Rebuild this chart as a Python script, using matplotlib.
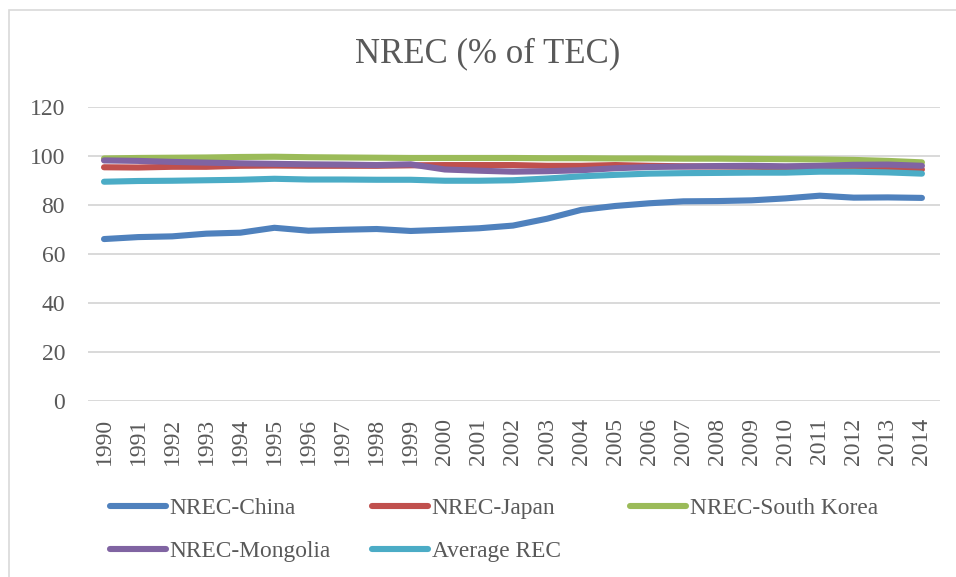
import matplotlib.pyplot as plt
from matplotlib.patches import Rectangle

years = [str(y) for y in range(1990, 2015)]

china = [66.1, 66.9, 67.2, 68.3, 68.7, 70.7, 69.5, 69.9, 70.2, 69.4,
         69.9, 70.5, 71.6, 74.4, 78.0, 79.6, 80.7, 81.5, 81.6, 81.9,
         82.7, 83.8, 83.0, 83.1, 82.9]
japan = [95.4, 95.3, 95.6, 95.6, 96.0, 96.1, 96.0, 96.0, 96.0, 96.2,
         96.3, 96.3, 96.3, 96.0, 96.0, 96.3, 96.0, 95.8, 95.7, 95.6,
         95.4, 95.3, 95.2, 95.0, 94.5]
south_korea = [99.0, 99.2, 99.3, 99.4, 99.6, 99.7, 99.5, 99.4, 99.3, 99.2,
               99.2, 99.2, 99.2, 99.1, 99.1, 99.0, 99.0, 98.9, 98.9, 98.8,
               98.7, 98.6, 98.4, 98.0, 97.4]
mongolia = [98.2, 98.0, 97.6, 97.3, 97.0, 96.8, 96.6, 96.5, 96.3, 96.6,
            94.5, 94.0, 93.6, 93.8, 94.2, 95.0, 95.5, 95.7, 95.9, 96.0,
            95.8, 96.0, 96.4, 96.5, 96.0]
average_rec = [89.5, 89.8, 89.9, 90.1, 90.3, 90.7, 90.4, 90.4, 90.3, 90.3,
               89.9, 89.9, 90.1, 90.8, 91.7, 92.3, 92.8, 93.0, 93.1, 93.2,
               93.2, 93.6, 93.6, 93.3, 92.8]

series = [
    ("NREC-China", china, "#4F81BD"),
    ("NREC-Japan", japan, "#C0504D"),
    ("NREC-South Korea", south_korea, "#9BBB59"),
    ("NREC-Mongolia", mongolia, "#8064A2"),
    ("Average REC", average_rec, "#4BACC6"),
]

plt.rcParams["font.family"] = ["Liberation Serif", "DejaVu Serif"]
txt = "#595959"
grid = "#D9D9D9"

fig = plt.figure(figsize=(9.56, 5.77), dpi=100)
fig.patches.append(Rectangle((9 / 956, -0.1), 1.2, 1.1 - 10 / 577,
                             transform=fig.transFigure, fill=False,
                             edgecolor=grid, linewidth=1.2))

ax = fig.add_axes([88 / 956, 1 - 401 / 577, (940 - 88) / 956, (401 - 107) / 577])

x = list(range(len(years)))
lines = {}
for name, vals, col in series:
    ln, = ax.plot(x, vals, color=col, linewidth=4.4, solid_capstyle="round",
                  solid_joinstyle="round", label=name)
    lines[name] = ln

ax.set_xlim(-0.47, 24.53)
ax.set_ylim(0, 120)
ax.set_yticks(range(0, 121, 20))
ax.set_xticks(x)
ax.set_xticklabels(years, rotation=90)
ax.tick_params(axis="both", length=0, labelsize=17, colors=txt)
ax.tick_params(axis="y", pad=16.5)
ax.tick_params(axis="x", pad=12)
ax.grid(axis="y", color=grid, linewidth=1.4)
ax.set_axisbelow(True)
for s in ax.spines.values():
    s.set_visible(False)

fig.text(488 / 956, 1 - 54 / 577, "NREC (% of TEC)", ha="center", va="center",
         fontsize=25, color=txt)

# legend laid out as three fixed-width columns, like the original
columns = [
    (110, ["NREC-China", "NREC-Mongolia"]),
    (372, ["NREC-Japan", "Average REC"]),
    (630, ["NREC-South Korea"]),
]
for xpix, names in columns:
    leg = fig.legend([lines[n] for n in names], names, frameon=False,
                     loc="upper left", bbox_to_anchor=(xpix / 956, 1 - 498 / 577),
                     fontsize=16.8, handlelength=2.4, handletextpad=0.15,
                     labelspacing=0.9, borderpad=0, borderaxespad=0)
    for t in leg.get_texts():
        t.set_color(txt)

fig.savefig("out.png", dpi=100)
